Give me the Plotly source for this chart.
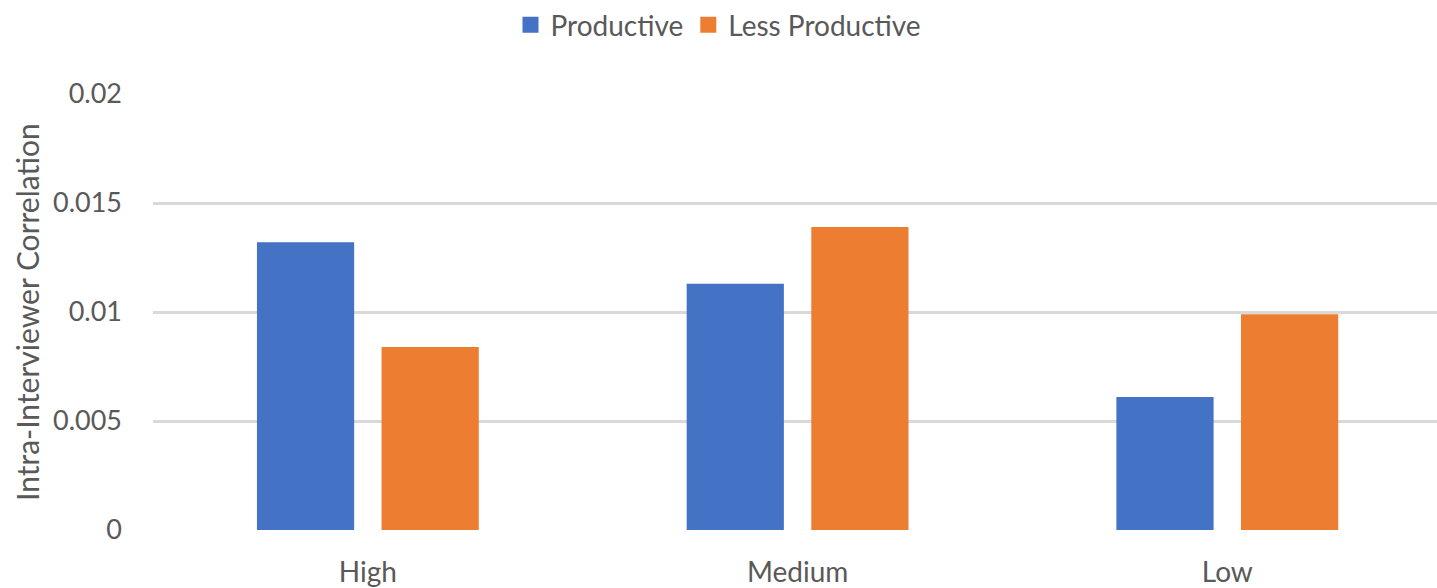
import plotly.graph_objects as go

categories = ["High", "Medium", "Low"]
productive = [0.0132, 0.0113, 0.0061]
less_productive = [0.0084, 0.0139, 0.0099]
y_ticks = [0, 0.005, 0.01, 0.015, 0.02]
y_tick_labels = ["0", "0.005", "0.01", "0.015", "0.02"]

FONT = "Lato"
GREY = "#595959"
BLUE = "#4472C4"
ORANGE = "#ED7D31"

fig = go.Figure()
fig.add_trace(go.Bar(name="Productive", x=categories, y=productive,
                     marker=dict(color=BLUE, line=dict(width=0)),
                     showlegend=False))
fig.add_trace(go.Bar(name="Less Productive", x=categories, y=less_productive,
                     marker=dict(color=ORANGE, line=dict(width=0)),
                     showlegend=False))

# Square legend keys, larger than the default bar swatch
for name, color in [("Productive", BLUE), ("Less Productive", ORANGE)]:
    fig.add_trace(go.Scatter(name=name, x=[None], y=[None], mode="markers",
                             marker=dict(symbol="square", size=16, color=color),
                             showlegend=True, hoverinfo="skip"))

fig.update_layout(
    width=1437, height=588,
    margin=dict(l=153, r=0, t=94, b=58),
    paper_bgcolor="white", plot_bgcolor="white",
    barmode="group", bargap=0.42, bargroupgap=0.22,
    font=dict(family=FONT, size=27, color=GREY),
    showlegend=True,
    legend=dict(orientation="h", x=0.5, xref="container", xanchor="center",
                y=1, yref="container", yanchor="top",
                font=dict(family=FONT, size=28, color=GREY),
                traceorder="normal", itemwidth=30, tracegroupgap=0),
)

fig.update_xaxes(
    type="category", range=[-0.5, 2.488],
    showgrid=False, showline=False, zeroline=False,
    ticks="", ticklabelstandoff=23,
    tickfont=dict(family=FONT, size=28, color=GREY),
)
fig.update_yaxes(
    range=[0, 0.02], tickvals=y_ticks, ticktext=y_tick_labels,
    showgrid=True, gridcolor="#D9D9D9", gridwidth=3,
    zeroline=False, showline=False, ticks="", ticklabelstandoff=30,
    tickfont=dict(family=FONT, size=27, color=GREY),
)

fig.add_annotation(
    text="Intra-Interviewer Correlation", textangle=-90,
    xref="paper", yref="paper", x=(27 - 153) / 1284, y=0.5,
    xanchor="center", yanchor="middle", showarrow=False,
    font=dict(family=FONT, size=30, color=GREY),
)

fig.write_html("out.html")
